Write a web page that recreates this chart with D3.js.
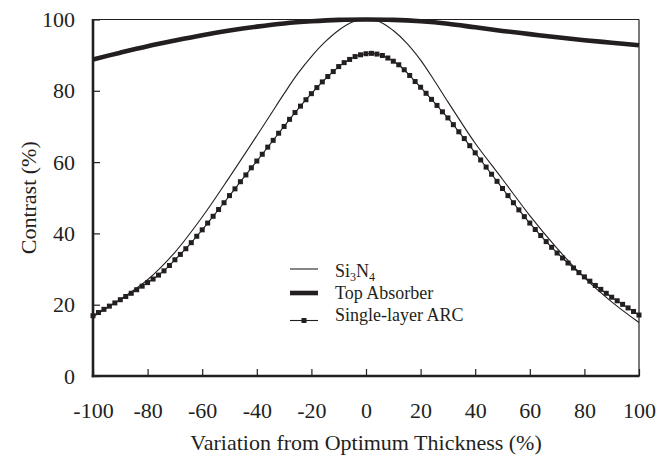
<!DOCTYPE html>
<html>
<head>
<meta charset="utf-8">
<script src="https://cdn.jsdelivr.net/npm/d3@7"></script>
<style>
  body { margin: 0; background: #fff; }
  svg text { font-family: "Liberation Serif", "Times New Roman", serif; fill: #231f20; }
</style>
</head>
<body>
<svg id="chart" width="672" height="455"></svg>
<script>
// values
const xTicks = [-100, -80, -60, -40, -20, 0, 20, 40, 60, 80, 100];
const yTicks = [0, 20, 40, 60, 80, 100];

const si3n4X = [-100, -90, -80, -70, -60, -50, -40, -35, -30, -25, -20, -15, -10, -5, 0, 5, 10, 15, 20, 25, 30, 35, 40, 50, 60, 70, 80, 90, 100];
const si3n4Y = [16.6, 21.5, 27.0, 34.7, 44.6, 55.8, 67.4, 73.3, 79.2, 84.8, 89.6, 93.7, 97.0, 99.3, 100, 99.4, 96.9, 93.3, 88.6, 82.9, 76.9, 71.0, 65.3, 55.2, 45.0, 35.8, 27.6, 20.8, 15.0];

const absorberX = [-100, -90, -80, -70, -60, -50, -40, -30, -20, -10, 0, 10, 20, 30, 40, 50, 60, 70, 80, 90, 100];
const absorberY = [88.8, 90.7, 92.5, 94.1, 95.6, 96.9, 98.0, 98.9, 99.5, 99.9, 100, 99.9, 99.5, 98.8, 97.8, 96.8, 95.9, 95.0, 94.2, 93.5, 92.8];

// single-layer ARC, one marker every 2 %
const arcX = d3.range(-100, 101, 2);
const arcY = [
  16.9, 17.8, 18.7, 19.6, 20.5, 21.4, 22.3, 23.2, 24.2, 25.2,
  26.2, 27.2, 28.3, 29.5, 31.0, 32.6, 34.1, 35.7, 37.4, 39.2,
  41.0, 42.9, 44.8, 46.7, 48.6, 50.6, 52.5, 54.5, 56.4, 58.4,
  60.3, 62.2, 64.2, 66.1, 68.1, 70.0, 72.0, 73.9, 75.7, 77.5,
  79.2, 80.9, 82.5, 84.0, 85.4, 86.8, 87.9, 88.8, 89.6, 90.1,
  90.4, 90.5, 90.3, 89.9, 89.2, 88.3, 87.3, 85.9, 84.3, 82.6,
  81.0, 79.3, 77.6, 75.9, 74.1, 72.4, 70.5, 68.5, 66.6, 64.6,
  62.6, 60.6, 58.6, 56.6, 54.6, 52.6, 50.6, 48.6, 46.6, 44.7,
  42.9, 41.1, 39.4, 37.7, 36.1, 34.5, 33.1, 31.7, 30.3, 29.0,
  27.8, 26.6, 25.4, 24.3, 23.2, 22.1, 21.1, 20.1, 19.1, 18.1,
  17.1
];

const legendLabels = ["Top Absorber", "Single-layer ARC"];

const ink = "#231f20";
const svg = d3.select("#chart");

const x = d3.scaleLinear().domain([-100, 100]).range([93, 639]);
const y = d3.scaleLinear().domain([0, 100]).range([376, 19.5]);

// axes (ticks point inward)
let xAxis = svg.append("g")
    .attr("transform", "translate(0," + y(0) + ")")
    .call(d3.axisBottom(x).tickValues(xTicks).tickSize(-7).tickPadding(26.5).tickFormat(d3.format("d")));
let yAxis = svg.append("g")
    .attr("transform", "translate(" + x(-100) + ",0)")
    .call(d3.axisLeft(y).tickValues(yTicks).tickSize(-7).tickPadding(18).tickFormat(d3.format("d")));

[xAxis, yAxis].forEach(function(a) {
    a.select(".domain").remove();
    a.selectAll("line").attr("stroke", ink).attr("stroke-width", 1.2);
    a.selectAll("text").attr("font-size", 22).attr("fill", ink)
        .style("font-family", '"Liberation Serif", serif');
});
// minus sign in the source is a plain hyphen
xAxis.selectAll("text").text(function(d) { return d < 0 ? "-" + Math.abs(d) : d; });

// frame: heavy left / bottom, light top / right
svg.append("line").attr("x1", x(100)).attr("x2", x(100)).attr("y1", y(100)).attr("y2", y(0))
    .attr("stroke", ink).attr("stroke-width", 1.2);
svg.append("line").attr("x1", x(-100)).attr("x2", x(100)).attr("y1", y(100)).attr("y2", y(100))
    .attr("stroke", ink).attr("stroke-width", 1.2);
svg.append("line").attr("x1", x(-100)).attr("x2", x(-100)).attr("y1", y(100) - 0.6).attr("y2", y(0) + 1.3)
    .attr("stroke", ink).attr("stroke-width", 2.6);
svg.append("line").attr("x1", x(-100) - 1.3).attr("x2", x(100) + 0.6).attr("y1", y(0)).attr("y2", y(0))
    .attr("stroke", ink).attr("stroke-width", 2.6);

// axis titles
svg.append("text")
    .attr("x", (x(-100) + x(100)) / 2)
    .attr("y", 450)
    .attr("text-anchor", "middle")
    .attr("font-size", 22)
    .text("Variation from Optimum Thickness (%)");

svg.append("text")
    .attr("transform", "translate(36," + ((y(0) + y(100)) / 2) + ") rotate(-90)")
    .attr("text-anchor", "middle")
    .attr("font-size", 22)
    .text("Contrast (%)");

// curves
let smooth = d3.line()
    .x(function(d) { return x(d[0]); })
    .y(function(d) { return y(d[1]); })
    .curve(d3.curveCatmullRom);
let straight = d3.line()
    .x(function(d) { return x(d[0]); })
    .y(function(d) { return y(d[1]); });

let si3n4 = d3.zip(si3n4X, si3n4Y);
let absorber = d3.zip(absorberX, absorberY);
let arc = d3.zip(arcX, arcY);

svg.append("path").datum(si3n4)
    .attr("d", smooth).attr("fill", "none").attr("stroke", ink).attr("stroke-width", 1.1);

svg.append("path").datum(arc)
    .attr("d", straight).attr("fill", "none").attr("stroke", ink).attr("stroke-width", 1.1);
svg.append("g").selectAll("rect")
    .data(arc)
    .enter()
    .append("rect")
    .attr("x", function(d) { return x(d[0]) - 2.5; })
    .attr("y", function(d) { return y(d[1]) - 2.5; })
    .attr("width", 5)
    .attr("height", 5)
    .attr("fill", ink);

svg.append("path").datum(absorber)
    .attr("d", smooth).attr("fill", "none").attr("stroke", ink).attr("stroke-width", 4.6);

// legend
let legend = svg.append("g");
legend.append("line").attr("x1", 290).attr("x2", 318).attr("y1", 269).attr("y2", 269)
    .attr("stroke", ink).attr("stroke-width", 1.1);
legend.append("line").attr("x1", 290).attr("x2", 318).attr("y1", 293).attr("y2", 293)
    .attr("stroke", ink).attr("stroke-width", 4.6);
legend.append("line").attr("x1", 290).attr("x2", 318).attr("y1", 320.5).attr("y2", 320.5)
    .attr("stroke", ink).attr("stroke-width", 1.1);
legend.append("rect").attr("x", 301.5).attr("y", 318).attr("width", 5).attr("height", 5).attr("fill", ink);

let siLabel = legend.append("text").attr("x", 335).attr("y", 277).attr("font-size", 18);
siLabel.append("tspan").text("Si");
siLabel.append("tspan").attr("font-size", 12).attr("dy", 4).text("3");
siLabel.append("tspan").attr("dy", -4).text("N");
siLabel.append("tspan").attr("font-size", 12).attr("dy", 4).text("4");

legend.selectAll("text.lab")
    .data(legendLabels)
    .enter()
    .append("text")
    .classed("lab", true)
    .attr("x", 335)
    .attr("y", function(d, i) { return 299 + i * 22; })
    .attr("font-size", 18)
    .text(function(d) { return d; });
</script>
</body>
</html>
